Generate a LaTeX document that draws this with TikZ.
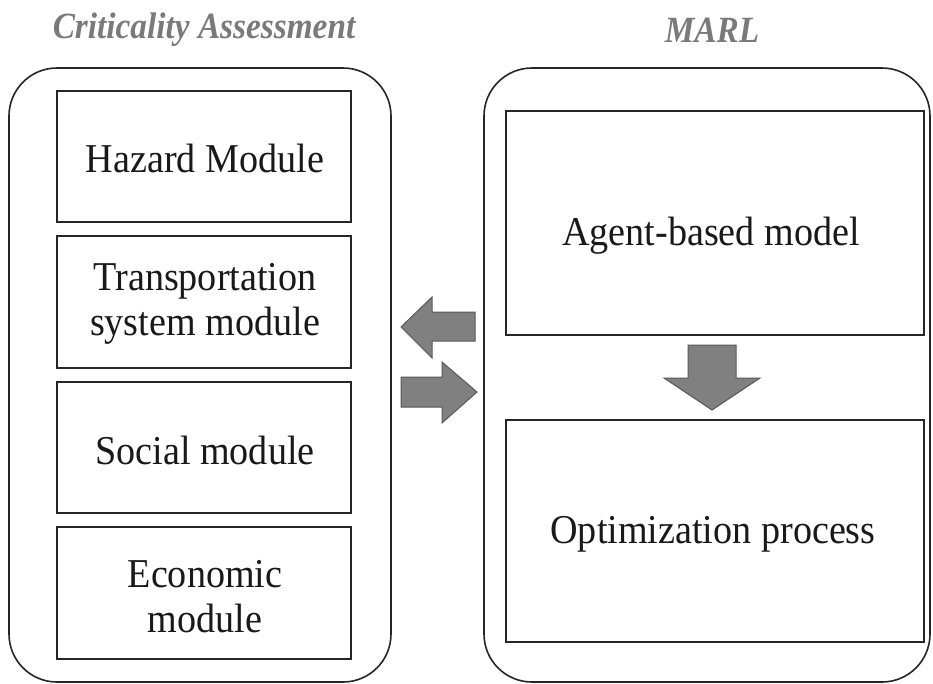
\documentclass[tikz,border=0pt]{standalone}
\usepackage{fontspec}
\setmainfont{Liberation Serif}
\newfontfamily\bodyfont[FakeStretch=0.93]{Liberation Serif}
\newfontfamily\headfont[FakeStretch=0.9]{Liberation Serif}
\begin{document}
\begin{tikzpicture}[x=1pt,y=-1pt,
  outerbox/.style={draw=black!85, line width=1.6pt, rounded corners=48pt},
  modbox/.style={draw=black!85, line width=1.8pt, fill=white},
  modtext/.style={font=\bodyfont\fontsize{41}{45}\selectfont, align=center, text=black!90},
  heading/.style={font=\headfont\fontsize{37}{40}\selectfont\bfseries\itshape, text=black!52},
  blockarrow/.style={fill=black!50, draw=black!65, line width=1pt, line join=miter}]
\useasboundingbox (0,0) rectangle (933,683);

% column headings
\node[heading] (hcrit) at (204,30) {Criticality Assessment};
\node[heading] (hmarl) at (712,30) {MARL};

% outer panels
\draw[outerbox] (9,68) rectangle (391,682);
\draw[outerbox] (484,68) rectangle (930,682);

% criticality assessment modules
\draw[modbox] (57,91) rectangle (351,222);
\node[modtext] (haz) at (205,158) {Hazard Module};
\draw[modbox] (57,236) rectangle (351,368);
\node[modtext] (trans) at (205,304) {Transportation\\system module};
\draw[modbox] (57,382) rectangle (351,513);
\node[modtext] (soc) at (205,450) {Social module};
\draw[modbox] (57,527) rectangle (351,659);
\node[modtext] (eco) at (205,597) {Economic\\module};

% MARL blocks
\draw[modbox] (506,111) rectangle (924,335);
\node[modtext] (abm) at (711,236) {Agent-based model};
\draw[modbox] (506,420) rectangle (924,642);
\node[modtext] (opt) at (713,534) {Optimization process};

% exchange arrows between the panels
\draw[blockarrow] (401,327) -- (432,297) -- (432,312) -- (475,312) -- (475,341) -- (432,341) -- (432,358) -- cycle;
\draw[blockarrow] (477,392) -- (442,362) -- (442,377) -- (401,377) -- (401,407) -- (442,407) -- (442,423) -- cycle;

% flow from model to optimisation
\draw[blockarrow] (712,410) -- (664,378) -- (688,378) -- (688,345) -- (736,345) -- (736,378) -- (760,378) -- cycle;
\end{tikzpicture}
\end{document}
